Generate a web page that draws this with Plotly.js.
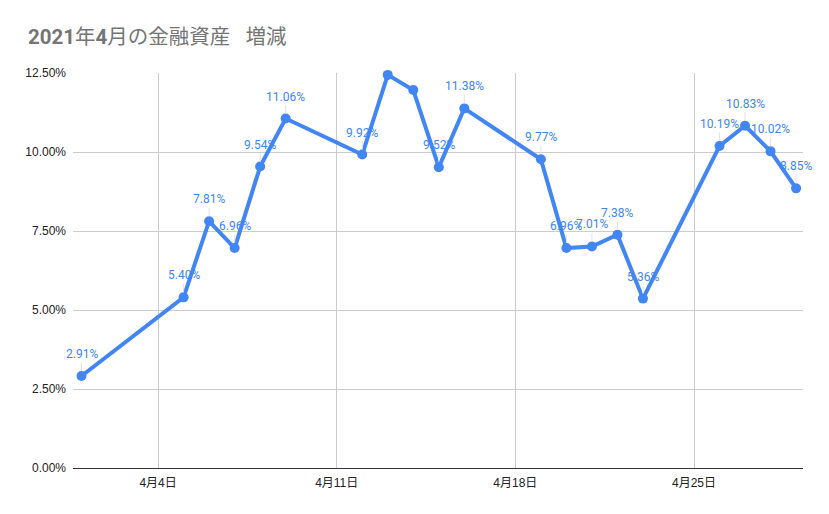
<!DOCTYPE html>
<html>
<head>
<meta charset="utf-8">
<script src="https://cdn.plot.ly/plotly-3.0.1.min.js"></script>
<style>html,body{margin:0;padding:0;background:#fff;}#chart{width:829px;height:514px;}</style>
</head>
<body>
<div id="chart"></div>
<script>
const dates = ['2021-04-01','2021-04-05','2021-04-06','2021-04-07','2021-04-08','2021-04-09',
  '2021-04-12','2021-04-13','2021-04-14','2021-04-15','2021-04-16',
  '2021-04-19','2021-04-20','2021-04-21','2021-04-22','2021-04-23',
  '2021-04-26','2021-04-27','2021-04-28','2021-04-29'];
const values = [0.0291,0.0540,0.0781,0.0696,0.0954,0.1106,
  0.0992,0.1244,0.1196,0.0952,0.1138,
  0.0977,0.0696,0.0701,0.0738,0.0536,
  0.1019,0.1083,0.1002,0.0885];
const hiddenLabels = ['2021-04-13','2021-04-14'];
const tickDates = ['2021-04-04','2021-04-11','2021-04-18','2021-04-25'];
const tickLabels = ['4月4日','4月11日','4月18日','4月25日'];
const yTicks = [0,0.025,0.05,0.075,0.10,0.125];
const titleText = '<b>2021</b>年<b>4</b>月の金融資産\u00a0\u00a0\u00a0増減';

const blue = '#4285F4';
const annotations = [];
dates.forEach((d,i)=>{
  if (hiddenLabels.includes(d)) return;
  annotations.push({
    x: d, y: values[i], xref:'x', yref:'y',
    text: (values[i]*100).toFixed(2)+'%',
    showarrow:true, arrowhead:0, arrowwidth:1, arrowcolor:'#e3e3e3',
    ax:0, ay:-22, standoff:5,
    font:{family:'Roboto, Arial, sans-serif', size:12, color:blue}
  });
});

const trace = {
  x: dates, y: values, type:'scatter', mode:'lines+markers',
  line:{color:blue, width:4},
  marker:{color:blue, size:10},
  cliponaxis:false,
  hoverinfo:'skip'
};

const layout = {
  width:829, height:514,
  margin:{l:73, r:26, t:73, b:46},
  paper_bgcolor:'#fff', plot_bgcolor:'#fff',
  showlegend:false,
  title:{text:titleText, xref:'container', yref:'container', x:28/829, xanchor:'left',
    y:1-37/514, yanchor:'middle',
    font:{family:'Roboto, "Noto Sans CJK JP", sans-serif', size:20.5, color:'#757575'}},
  xaxis:{type:'date', range:['2021-03-31 16:00','2021-04-29 06:30'],
    tickvals:tickDates, ticktext:tickLabels, ticks:'',
    showgrid:true, gridcolor:'#cccccc', gridwidth:1,
    showline:true, linecolor:'#333333', linewidth:1,
    zeroline:false, ticklabelstandoff:4,
    tickfont:{family:'"Liberation Sans", "Noto Sans CJK JP", Arial, sans-serif', size:12, color:'#222'}},
  yaxis:{range:[0,0.125], tickvals:yTicks, tickformat:'.2%', ticks:'',
    showgrid:true, gridcolor:'#cccccc', gridwidth:1,
    zeroline:false, showline:false, ticklabelstandoff:6,
    tickfont:{family:'"Liberation Sans", Arial, sans-serif', size:12, color:'#222'}},
  annotations:annotations,
  font:{family:'Roboto, "Noto Sans CJK JP", sans-serif'}
};

Plotly.newPlot('chart',[trace],layout,{displayModeBar:false, staticPlot:true});
</script>
</body>
</html>
